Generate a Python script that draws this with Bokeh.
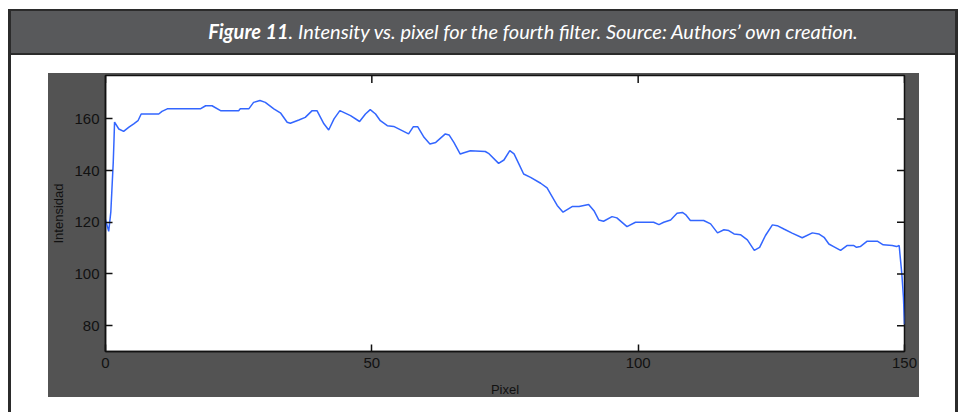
from bokeh.plotting import figure
from bokeh.models import Range1d, FixedTicker, Div
from bokeh.layouts import column
from bokeh.embed import file_html
from bokeh.resources import INLINE

# ---- data ----
pixel = [0, 0.6, 1.0, 1.2, 1.45, 1.6, 1.7, 2.5, 3.4, 4.4, 5.3, 6.1, 6.7, 10.0, 10.6,
         11.6, 17.8, 18.8, 20.0, 21.6, 25.0, 25.3, 26.9, 27.8, 29.0, 30.0, 31.6,
         32.9, 34.1, 34.7, 36.3, 37.5, 38.8, 39.7, 41.0, 41.9, 42.9, 44.0, 46.0,
         47.7, 48.8, 49.7, 50.7, 51.6, 52.9, 54.1, 56.9, 57.8, 58.6, 59.8, 60.9,
         62.0, 63.8, 64.5, 65.4, 66.6, 67.3, 68.5, 71.3, 71.9, 73.8, 74.8, 75.9,
         76.7, 77.6, 78.5, 79.8, 81.7, 82.9, 83.9, 84.8, 85.9, 87.6, 88.9, 90.7,
         91.7, 92.6, 93.5, 95.1, 96.0, 97.9, 99.5, 102.9, 103.9, 104.8, 106.1,
         107.3, 108.3, 108.9, 109.8, 112.3, 113.6, 114.9, 116.1, 117.0, 118.0,
         119.2, 120.5, 121.8, 122.8, 123.9, 125.2, 126.1, 127.35, 128.9, 130.8,
         132.7, 133.9, 134.9, 135.8, 136.7, 138.0, 139.2, 140.5, 141.0, 141.7,
         143.0, 144.9, 146.0, 147.7, 148.5, 149.0, 149.2, 149.5, 149.8, 150.0]
intensity = [121, 116.5, 124, 132.5, 143, 152, 158.8, 156.1, 155.2, 156.8, 158.1,
             159.3, 161.9, 161.9, 162.9, 163.9, 163.9, 165.1, 165.1, 163.2, 163.2,
             163.9, 163.9, 166.4, 167.1, 166.4, 163.9, 162.2, 158.7, 158.3, 159.6,
             160.6, 163.2, 163.2, 158.1, 155.7, 160.0, 163.2, 161.3, 159.0, 161.9,
             163.6, 161.9, 159.3, 157.4, 157.1, 154.2, 157.0, 157.0, 152.9, 150.3,
             150.9, 154.2, 153.8, 150.9, 146.4, 146.9, 147.7, 147.4, 146.7, 142.8,
             144.1, 147.7, 146.5, 142.6, 138.7, 137.4, 135.1, 133.3, 129.7, 126.5,
             123.9, 126.1, 126.1, 126.9, 124.5, 120.9, 120.4, 122.2, 121.7, 118.3,
             120.0, 120.0, 119.1, 120.0, 120.9, 123.5, 123.8, 123.0, 120.7, 120.7,
             119.4, 115.9, 117.1, 116.8, 115.5, 115.2, 113.2, 109.1, 110.3, 114.9,
             119.0, 118.7, 117.4, 115.8, 114.0, 115.9, 115.5, 114.2, 111.6, 110.6,
             109.1, 111.0, 111.0, 110.3, 110.6, 112.7, 112.7, 111.3, 111.0, 110.6,
             111.0, 106.5, 100.0, 91.0, 80.5]
x_ticks = [0, 50, 100, 150]
y_ticks = [80, 100, 120, 140, 160]
title_bold = "Figure 11"
title_rest = ". Intensity vs. pixel for the fourth filter. Source: Authors\u2019 own creation."
x_label = "Pixel"
y_label = "Intensidad"

AX_FONT = "Liberation Sans"
INK = "#111111"
RULE = "#2b2b2b"

# ---- caption banner (HTML text, bold + italic runs) ----
caption_html = (
    '<div style="box-sizing:border-box;width:950px;height:46px;line-height:45px;'
    'padding-left:100px;text-align:center;white-space:nowrap;color:#ffffff;'
    'font-family:Lato,sans-serif;font-size:20px;font-style:italic;">'
    f'<b>{title_bold}</b>{title_rest}</div>'
)
banner = Div(text=caption_html, width=950, height=46, margin=(9, 4, 0, 8),
             styles={"background-color": "#58595b",
                     "box-shadow": f"inset 3px 0 0 {RULE}, inset -3px 0 0 {RULE}, "
                                   f"inset 0 2px 0 {RULE}, inset 0 -2px 0 {RULE}",
                     "overflow": "hidden"})

# ---- chart ----
W, H = 962, 357
FL, FT, FR, FB = 105, 20, 904, 296   # frame edges inside this canvas

bg = ", ".join([
    "linear-gradient(#535353, #535353) 48px 18px / 871px 324px no-repeat",
    f"linear-gradient({RULE}, {RULE}) 8px 0px / 3px 357px no-repeat",
    f"linear-gradient({RULE}, {RULE}) 955px 0px / 3px 357px no-repeat",
    "#ffffff",
])

p = figure(width=W, height=H, x_range=Range1d(0, 150), y_range=Range1d(70, 176.8),
           output_backend="svg", toolbar_location=None,
           min_border_left=FL, min_border_right=W - FR, min_border_top=FT,
           min_border_bottom=H - FB,
           border_fill_alpha=0, background_fill_color="white",
           outline_line_color=INK, outline_line_width=1.5,
           margin=(0, 0, 0, 0), styles={"background": bg})
p.grid.visible = False

p.line(pixel, intensity, line_color="#3366ff", line_width=1.5)

# mirrored inward ticks on the right and top edges (box on)
p.scatter([p.x_range.end] * len(y_ticks), y_ticks, marker="dash", size=15,
          line_color=INK, line_width=1.5)
p.scatter(x_ticks, [p.y_range.end] * len(x_ticks), marker="dash", angle=1.5708,
          size=15, line_color=INK, line_width=1.5)

for ax, ticks in ((p.xaxis[0], x_ticks), (p.yaxis[0], y_ticks)):
    ax.ticker = FixedTicker(ticks=ticks)
    ax.major_tick_in = 7
    ax.major_tick_out = 0
    ax.minor_tick_in = 0
    ax.minor_tick_out = 0
    ax.major_tick_line_color = INK
    ax.major_tick_line_width = 1.5
    ax.axis_line_color = INK
    ax.axis_line_width = 1.5
    ax.major_label_text_font = AX_FONT
    ax.major_label_text_font_size = "15px"
    ax.major_label_text_color = INK
    ax.major_label_standoff = 6
    ax.axis_label_text_font = AX_FONT
    ax.axis_label_text_font_size = "13px"
    ax.axis_label_text_font_style = "normal"
    ax.axis_label_text_color = INK

p.xaxis[0].axis_label = x_label
p.xaxis[0].axis_label_standoff = 11
p.yaxis[0].axis_label = y_label
p.yaxis[0].axis_label_standoff = 5

root = column(banner, p, width=962, height=412)

open("out.html", "w").write(file_html(root, INLINE))
